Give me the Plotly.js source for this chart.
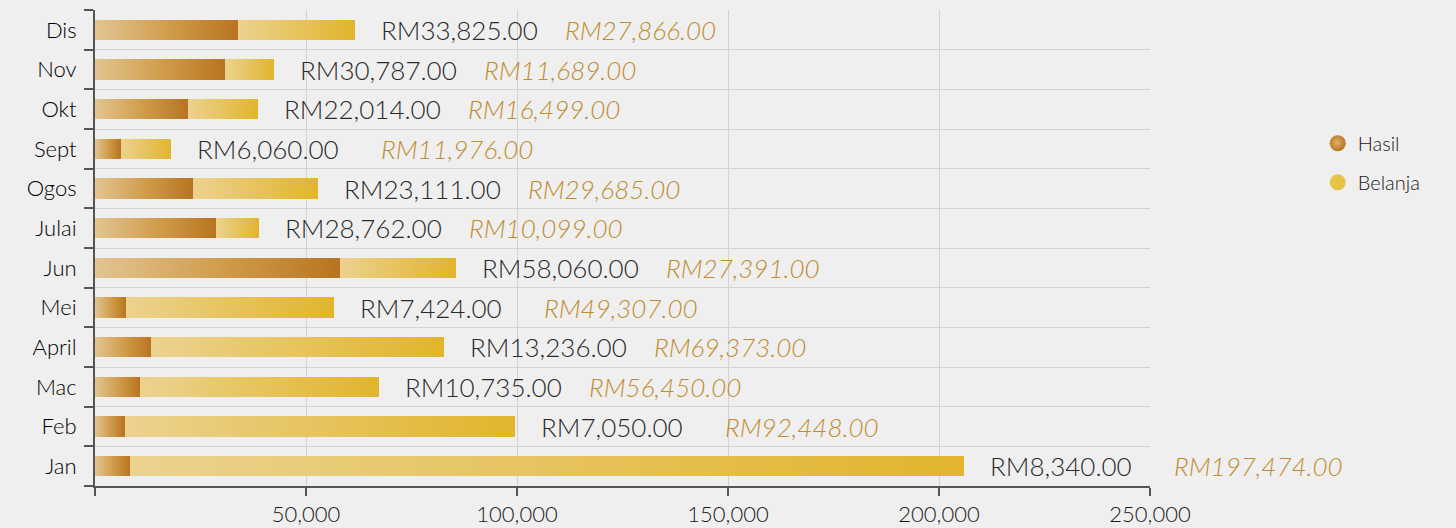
<!DOCTYPE html>
<html>
<head>
<meta charset="utf-8">
<script src="https://cdn.plot.ly/plotly-3.0.1.min.js"></script>
<style>
html,body{margin:0;padding:0;background:#efefef;}
#chart{width:1456px;height:528px;}
</style>
</head>
<body>
<div id="chart"></div>
<script>
const months = ['Jan','Feb','Mac','April','Mei','Jun','Julai','Ogos','Sept','Okt','Nov','Dis'];
const hasil = [8340, 7050, 10735, 13236, 7424, 58060, 28762, 23111, 6060, 22014, 30787, 33825];
const belanja = [197474, 92448, 56450, 69373, 49307, 27391, 10099, 29685, 11976, 16499, 11689, 27866];
const xTickVals = [0, 50000, 100000, 150000, 200000, 250000];
const xTickText = ['', '50,000', '100,000', '150,000', '200,000', '250,000'];

const FONT = 'Lato, "Open Sans", sans-serif';
const fmt = v => 'RM' + v.toLocaleString('en-US', {minimumFractionDigits: 2, maximumFractionDigits: 2});
const totals = hasil.map((h, i) => h + belanja[i]);

const traces = [
  {type:'bar', orientation:'h', name:'Hasil', y:months, x:hasil,
   marker:{color:'#c58a35'}, showlegend:false, hoverinfo:'x+y'},
  {type:'bar', orientation:'h', name:'Belanja', y:months, x:belanja,
   marker:{color:'#e6c04a'}, showlegend:false, hoverinfo:'x+y'},
  {type:'scatter', mode:'markers', name:'Hasil', x:[null], y:[null],
   marker:{size:16, color:'#c07f28'}, legend:'legend'},
  {type:'scatter', mode:'markers', name:'Belanja', x:[null], y:[null],
   marker:{size:16, color:'#e8c445'}, legend:'legend2'}
];

const annotations = [];
months.forEach((m, i) => {
  annotations.push({x: totals[i], y: m, xref:'x', yref:'y', xanchor:'left', yanchor:'middle',
    xshift: 24, showarrow:false, text: fmt(hasil[i]),
    font:{family:FONT, size:26, weight:300, color:'#2a2a2a'}});
  annotations.push({x: totals[i], y: m, xref:'x', yref:'y', xanchor:'left', yanchor:'middle',
    xshift: 208, showarrow:false, text: '<i>' + fmt(belanja[i]) + '</i>',
    font:{family:FONT, size:26, weight:300, color:'#c08d2e'}});
});

const layout = {
  width:1456, height:528,
  margin:{l:95, r:306, t:10, b:42},
  paper_bgcolor:'#efefef', plot_bgcolor:'rgba(0,0,0,0)',
  barmode:'stack', bargap:0.49,
  font:{family:FONT, color:'#222'},
  xaxis:{range:[0, 250000], tickvals:xTickVals, ticktext:xTickText,
    showgrid:true, gridcolor:'#d2d2d2', gridwidth:1,
    showline:true, linecolor:'#555', linewidth:2,
    ticks:'outside', ticklen:8, tickwidth:2, tickcolor:'#555',
    tickfont:{family:FONT, size:22, weight:300, color:'#1a1a1a'}, zeroline:false, fixedrange:true},
  yaxis:{type:'category', categoryorder:'array', categoryarray:months,
    tickson:'boundaries', showgrid:true, gridcolor:'#d2d2d2', gridwidth:1,
    showline:true, linecolor:'#555', linewidth:2,
    ticks:'outside', ticklen:9, tickwidth:2, tickcolor:'#555', ticklabelstandoff:12,
    tickfont:{family:FONT, size:22, weight:300, color:'#000'}, fixedrange:true},
  legend:{x:1.159, y:0.72, xanchor:'left', yanchor:'middle', bgcolor:'rgba(0,0,0,0)',
    font:{family:FONT, size:20, weight:300, color:'#1a1a1a'}},
  legend2:{x:1.159, y:0.638, xanchor:'left', yanchor:'middle', bgcolor:'rgba(0,0,0,0)',
    font:{family:FONT, size:20, weight:300, color:'#1a1a1a'}},
  annotations: annotations
};

Plotly.newPlot('chart', traces, layout, {displayModeBar:false, staticPlot:true}).then(gd => {
  const NS = 'http://www.w3.org/2000/svg';
  const svg = gd.querySelector('svg.main-svg');
  let defs = svg.querySelector('defs');
  if (!defs) { defs = document.createElementNS(NS, 'defs'); svg.insertBefore(defs, svg.firstChild); }
  function grad(tag, id, stops) {
    const g = document.createElementNS(NS, tag);
    g.setAttribute('id', id);
    if (tag === 'linearGradient') { g.setAttribute('x1','0'); g.setAttribute('x2','1'); g.setAttribute('y1','0'); g.setAttribute('y2','0'); }
    else { g.setAttribute('cx','0.45'); g.setAttribute('cy','0.45'); g.setAttribute('r','0.55'); }
    stops.forEach(([o, c]) => { const s = document.createElementNS(NS, 'stop');
      s.setAttribute('offset', o); s.setAttribute('stop-color', c); g.appendChild(s); });
    defs.appendChild(g);
  }
  grad('linearGradient', 'gHasil', [['0', '#e2c591'], ['0.55', '#cf9a48'], ['1', '#b8741f']]);
  grad('linearGradient', 'gBelanja', [['0', '#ecd28f'], ['1', '#e1b52c']]);
  grad('radialGradient', 'rHasil', [['0', '#e0b070'], ['1', '#b8741f']]);
  grad('radialGradient', 'rBelanja', [['0', '#f3d873'], ['1', '#e0b52c']]);
  const barTraces = gd.querySelectorAll('.barlayer .trace');
  if (barTraces[0]) barTraces[0].querySelectorAll('path').forEach(p => p.style.fill = 'url(#gHasil)');
  if (barTraces[1]) barTraces[1].querySelectorAll('path').forEach(p => p.style.fill = 'url(#gBelanja)');
  gd.querySelectorAll('.legend').forEach(l => {
    const txt = l.querySelector('.legendtext');
    if (!txt) return;
    const id = txt.textContent.trim() === 'Hasil' ? 'rHasil' : 'rBelanja';
    l.querySelectorAll('.legendpoints path').forEach(p => p.style.fill = 'url(#' + id + ')');
  });
});
</script>
</body>
</html>
